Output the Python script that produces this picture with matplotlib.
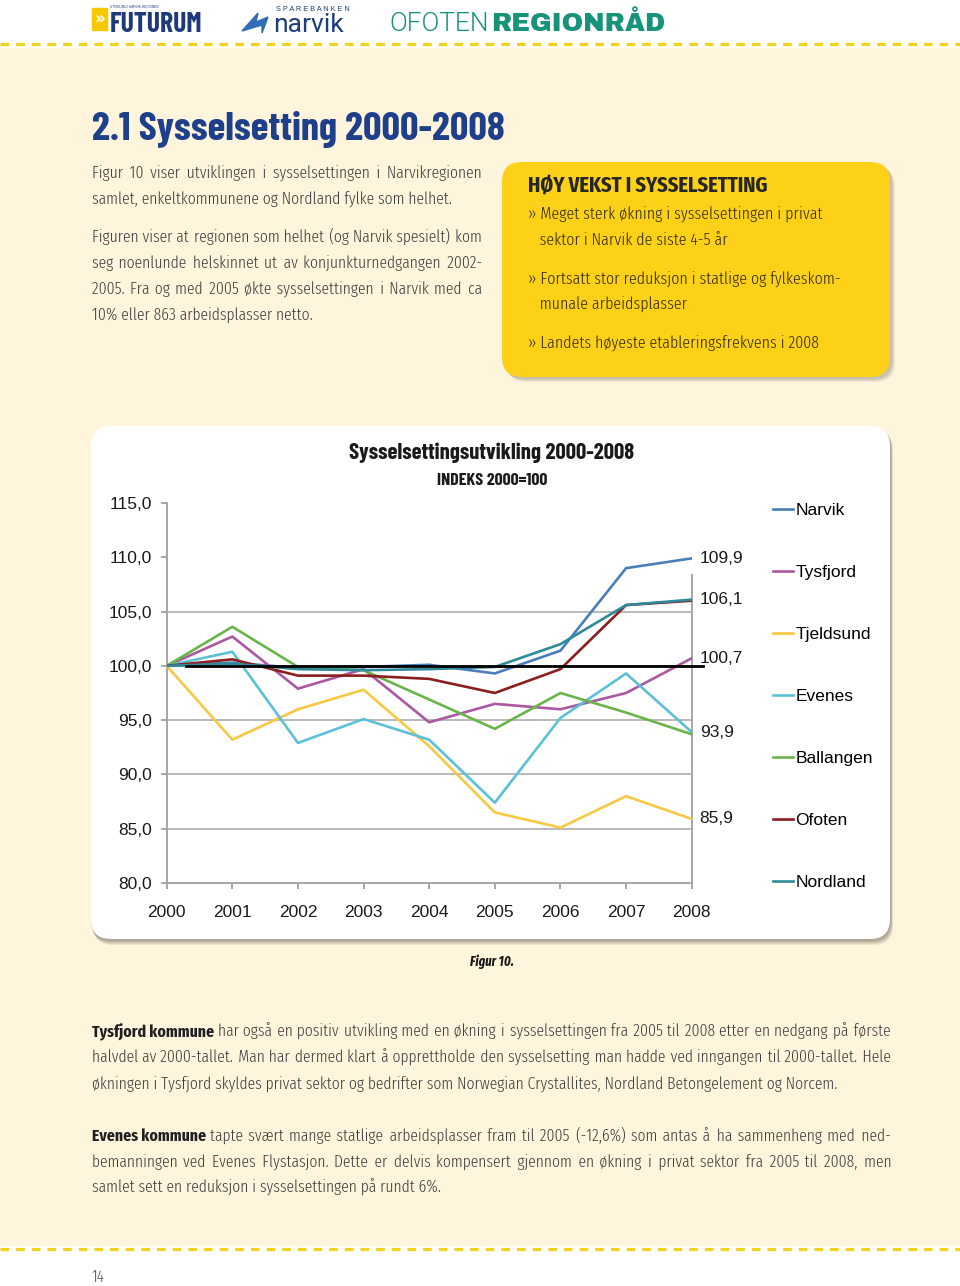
import matplotlib
matplotlib.use("Agg")
import matplotlib.pyplot as plt
from matplotlib.patches import FancyBboxPatch, Rectangle, Polygon

# ---- chart data (index 2000 = 100) ----
years = [2000, 2001, 2002, 2003, 2004, 2005, 2006, 2007, 2008]
narvik = [100, 100.3, 99.8, 99.9, 100.1, 99.3, 101.4, 109.0, 109.9]
tysfjord = [100, 102.7, 97.9, 99.7, 94.8, 96.5, 96.0, 97.5, 100.7]
tjeldsund = [100, 93.2, 96.0, 97.8, 92.6, 86.5, 85.1, 88.0, 85.9]
evenes = [100, 101.3, 92.9, 95.1, 93.2, 87.4, 95.2, 99.3, 93.9]
ballangen = [100, 103.6, 99.9, 99.6, 96.9, 94.2, 97.5, 95.7, 93.7]
ofoten = [100, 100.6, 99.1, 99.1, 98.8, 97.5, 99.7, 105.6, 106.0]
nordland = [100, 100.2, 99.7, 99.6, 99.7, 99.9, 102.0, 105.6, 106.1]

names = ["Narvik", "Tysfjord", "Tjeldsund", "Evenes", "Ballangen", "Ofoten", "Nordland"]
series = [narvik, tysfjord, tjeldsund, evenes, ballangen, ofoten, nordland]
colors = ["#4a7ebb", "#ab58a3", "#f5c944", "#5bc0d8", "#6ab54a", "#8b1e1e", "#2e8b9a"]

end_values = [109.9, 106.1, 100.7, 93.9, 85.9]
end_labels = ["109,9", "106,1", "100,7", "93,9", "85,9"]

yticks = [80, 85, 90, 95, 100, 105, 110, 115]
ytick_labels = ["80,0", "85,0", "90,0", "95,0", "100,0", "105,0", "110,0", "115,0"]
grid_levels = [85, 90, 95, 100, 105]
baseline = 100

# ---- page text ----
intro = [
    ("Figur 10 viser utviklingen i sysselsettingen i Narvikregionen", True),
    ("samlet, enkeltkommunene og Nordland fylke som helhet.", False),
    ("Figuren viser at regionen som helhet (og Narvik spesielt) kom", True),
    ("seg noenlunde helskinnet ut av konjunkturnedgangen 2002-", True),
    ("2005. Fra og med 2005 økte sysselsettingen i Narvik med ca", True),
    ("10% eller 863 arbeidsplasser netto.", False),
]
intro_y = [178, 204, 242, 268, 294, 320]

box_lines = [
    "» Meget sterk økning i sysselsettingen i privat",
    "   sektor i Narvik de siste 4-5 år",
    "» Fortsatt stor reduksjon i statlige og fylkeskom-",
    "   munale arbeidsplasser",
    "» Landets høyeste etableringsfrekvens i 2008",
]
box_y = [219, 245, 284, 309, 348]

para = [
    ("Tysfjord kommune", "har også en positiv utvikling med en økning i sysselsettingen fra 2005 til 2008 etter en nedgang på første", True),
    ("", "halvdel av 2000-tallet. Man har dermed klart å opprettholde den sysselsetting man hadde ved inngangen til 2000-tallet. Hele", True),
    ("", "økningen i Tysfjord skyldes privat sektor og bedrifter som Norwegian Crystallites, Nordland Betongelement og Norcem.", False),
    ("Evenes kommune", "tapte svært mange statlige arbeidsplasser fram til 2005 (-12,6%) som antas å ha sammenheng med ned-", True),
    ("", "bemanningen ved Evenes Flystasjon. Dette er delvis kompensert gjennom en økning i privat sektor fra 2005 til 2008, men", True),
    ("", "samlet sett en reduksjon i sysselsettingen på rundt 6%.", False),
]
para_y = [1037, 1063, 1089, 1141, 1167, 1193]

BODY = ["Fira Sans Extra Condensed", "Fira Sans Condensed", "Liberation Sans", "DejaVu Sans"]
HEAD = ["Barlow Condensed", "Liberation Sans", "DejaVu Sans"]
ARIAL = ["Liberation Sans", "DejaVu Sans"]
cream = "#fff5dc"
dash_yellow = "#f3d21c"
body_col = "#404040"
HAIR = "\u200a"

fig = plt.figure(figsize=(9.6, 12.86), dpi=100)
fig.patch.set_facecolor("white")
bg = fig.add_axes([0, 0, 1, 1])
bg.set_xlim(0, 960)
bg.set_ylim(1286, 0)
bg.axis("off")
renderer = fig.canvas.get_renderer()


def width_of(s, size, weight="normal", family=BODY, style="normal"):
    t = bg.text(0, 0, s, fontsize=size, fontweight=weight, family=family, style=style)
    w = t.get_window_extent(renderer).width
    t.remove()
    return w


def fit_text(x, y, s, target, max_size, weight="normal", family=BODY, **kw):
    size = min(max_size, 20 * target / width_of(s, 20, weight, family, kw.get("style", "normal")))
    return bg.text(x, y, s, fontsize=size, fontweight=weight, family=family, **kw)


def justify(s, size, target, weight=300):
    # widen the word gaps with hair spaces so the line fills the column
    words = s.split()
    gaps = len(words) - 1
    hair = width_of("a" + HAIR + "a", size, weight) - width_of("aa", size, weight)
    extra = target - width_of(s, size, weight)
    n = max(0, int(round(extra / hair))) if hair > 0.2 else 0
    out = words[0]
    for i, w in enumerate(words[1:]):
        k = (n * (i + 1)) // gaps - (n * i) // gaps
        out += " " + HAIR * k + w
    return out


bg.add_patch(Rectangle((0, 48), 960, 1197, color=cream, zorder=0))
for yy in (44, 1249):
    bg.plot([0, 960], [yy, yy], color=dash_yellow, lw=2.3, ls=(0, (2.7, 2.2)),
            solid_capstyle="butt", dash_capstyle="butt", zorder=1)

# header logos
bg.add_patch(Rectangle((92, 8), 15, 22, color="#f6c800", zorder=2))
bg.text(99.5, 19, "»", color="white", fontsize=12, fontweight="bold", ha="center", va="center")
fit_text(110, 7, "UTVIKLING I NARVIK-REGIONEN", 48, 4, family=ARIAL, color="#1f3a7a", va="center")
fit_text(110, 32, "FUTURUM", 92, 24, weight="bold", family=HEAD, color="#1f3a7a", va="baseline")
bg.add_patch(Polygon([(242, 31), (258, 13), (256, 22), (268, 17), (262, 33), (262, 25)],
                     closed=True, color="#2f6db5", zorder=2))
fit_text(276, 11, "S P A R E B A N K E N", 74, 6, family=ARIAL, color="#1e3d7b", va="baseline")
fit_text(273, 32, "narvik", 77, 19, family=["Roboto", "Liberation Sans"], color="#1e3d7b", va="baseline")
fit_text(389, 31, "OFOTEN", 100, 22, weight=300, family=["Roboto", "Liberation Sans"], color="#17937c",
         va="baseline")
fit_text(491, 31, "REGIONRÅD", 174, 22, family=["Archivo Black", "DejaVu Sans"], color="#17937c",
         va="baseline")

# heading
fit_text(92, 140, "2.1 Sysselsetting 2000-2008", 413, 34, weight="bold", family=HEAD, color="#1e3f8a",
         va="baseline")


def body_size(lines, target, cap):
    sizes = []
    for b, rest in lines:
        w = width_of(rest, 10, 300) if rest else 0
        if b:
            w += width_of(b, 10, "bold") + width_of("a a", 10, 300) - width_of("aa", 10, 300)
        sizes.append(10 * target * 0.99 / w)
    return min([cap] + sizes)


def put_line(x0, x1, y, bold, rest, size, just):
    x = x0
    if bold:
        bg.text(x, y, bold, fontsize=size, family=BODY, fontweight="bold", color="#202020", va="baseline")
        x += width_of(bold, size, "bold") + width_of("a a", size, 300) - width_of("aa", size, 300)
    txt = justify(rest, size, x1 - x) if just else rest
    bg.text(x, y, txt, fontsize=size, family=BODY, fontweight=300, color=body_col, va="baseline")


s_intro = body_size([("", t) for t, j in intro if j], 390, 14)
s_para = body_size([(b, r) for b, r, j in para if j], 799, 14)
s_body = min(s_intro, s_para)
for (txt, just), yy in zip(intro, intro_y):
    put_line(92, 482, yy, "", txt, s_body, just)
for (b, rest, just), yy in zip(para, para_y):
    put_line(92, 891, yy, b, rest, s_body, just)

# yellow box
for k in range(4):
    bg.add_patch(FancyBboxPatch((503 + 1 + k, 162 + 2 + k), 388, 215,
                                boxstyle="round,pad=0,rounding_size=20",
                                fc="#000000", ec="none", alpha=0.06, zorder=2))
bg.add_patch(FancyBboxPatch((502, 162), 388, 215, boxstyle="round,pad=0,rounding_size=20",
                            fc="#fdd117", ec="none", zorder=3))
fit_text(528, 192, "HØY VEKST I SYSSELSETTING", 240, 18, weight="bold", family=BODY, color="#262626",
         va="baseline", zorder=4)
s_box = min(15, 20 * 310 / width_of(box_lines[2], 20, 300))
for txt, yy in zip(box_lines, box_y):
    bg.text(528, yy, txt, fontsize=s_box, fontweight=300, color="#352c00", family=BODY, va="baseline",
            zorder=4)

# chart box
for k in range(5):
    bg.add_patch(FancyBboxPatch((92 - 1 + k * 0.5, 427 + k), 800, 514,
                                boxstyle="round,pad=0,rounding_size=20",
                                fc="#000000", ec="none", alpha=0.07, zorder=2))
bg.add_patch(FancyBboxPatch((91, 426), 799, 513, boxstyle="round,pad=0,rounding_size=20",
                            fc="white", ec="none", zorder=3))
fit_text(492, 459, "Sysselsettingsutvikling 2000-2008", 286, 22, weight="bold", family=HEAD,
         color="#1a1a1a", ha="center", va="baseline", zorder=4)
fit_text(492, 485, "INDEKS 2000=100", 111, 14, weight="bold", family=HEAD, color="#1a1a1a",
         ha="center", va="baseline", zorder=4)

fit_text(492, 966, "Figur 10.", 44, 13, weight="bold", family=BODY, style="italic", color="#1a1a1a",
         ha="center", va="baseline")
bg.text(92, 1282, "14", fontsize=12, fontweight=300, color="#555555", family=BODY, va="baseline")

# ---- the chart ----
ax = fig.add_axes([166.7 / 960, (1286 - 883) / 1286, (691.7 - 166.7) / 960, (883 - 503) / 1286])
ax.set_facecolor("none")
ax.set_xlim(years[0], years[-1])
ax.set_ylim(80, 115)
grid_col = "#a6a6a6"
ax.hlines(grid_levels, years[0], years[-1], color=grid_col, lw=1.1, zorder=1)

handles = []
for vals, nm, c in zip(series, names, colors):
    ln, = ax.plot(years, vals, color=c, lw=1.9, label=nm, zorder=3)
    handles.append(ln)

ax.plot([years[0] + 0.3, years[-1] + 0.17], [baseline, baseline], color="black", lw=2.0,
        clip_on=False, zorder=4)

for v, lbl in zip(end_values, end_labels):
    ax.annotate(lbl, xy=(years[-1], v), xytext=(8, 0), textcoords="offset pixels",
                va="center", ha="left", fontsize=12.5, family=ARIAL, color="#1a1a1a",
                annotation_clip=False)

ax.set_yticks(yticks)
ax.set_yticklabels(ytick_labels)
ax.set_xticks(years)
ax.set_xticklabels([str(y) for y in years])
for lab in ax.get_xticklabels() + ax.get_yticklabels():
    lab.set_family(ARIAL)
    lab.set_fontsize(12.5)
    lab.set_color("#1a1a1a")
ax.tick_params(axis="y", length=4, width=1.4, color=grid_col, pad=6.5)
ax.tick_params(axis="x", length=4.3, width=1.4, color=grid_col, pad=11.7)
for s in ("left", "bottom", "right"):
    ax.spines[s].set_color(grid_col)
    ax.spines[s].set_linewidth(1.4)
ax.spines["top"].set_visible(False)
ax.spines["right"].set_bounds(80, 108.4)

ax.legend(handles, names, loc="upper left", bbox_to_anchor=(773 / 960, 1 - 503 / 1286),
          bbox_transform=fig.transFigure, frameon=False, prop={"family": ARIAL, "size": 12.5},
          handlelength=1.15, handletextpad=0.15, labelspacing=2.7, borderpad=0, borderaxespad=0)

fig.savefig("out.png", dpi=100)
